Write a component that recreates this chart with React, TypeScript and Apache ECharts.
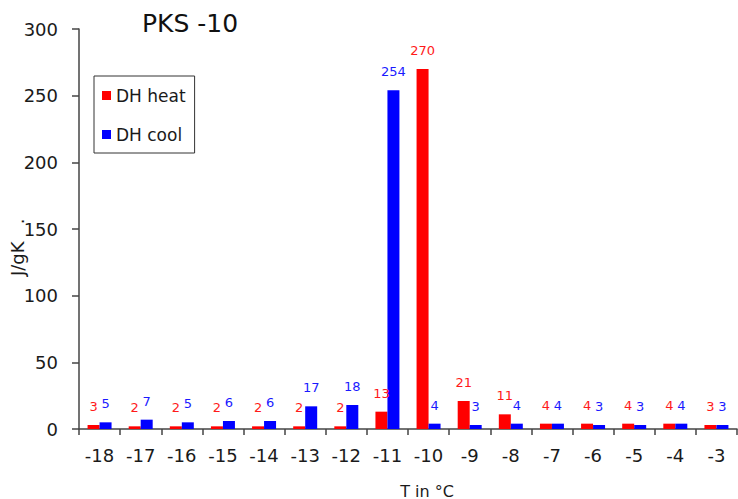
import React, { useEffect, useRef } from "react";
import * as echarts from "echarts";

const categories = ["-18", "-17", "-16", "-15", "-14", "-13", "-12", "-11", "-10", "-9", "-8", "-7", "-6", "-5", "-4", "-3"];
const heatValues = [3, 2, 2, 2, 2, 2, 2, 13, 270, 21, 11, 4, 4, 4, 4, 3];
const coolValues = [5, 7, 5, 6, 6, 17, 18, 254, 4, 3, 4, 4, 3, 3, 4, 3];
const yTicks = { min: 0, max: 300, interval: 50 };

const FONT = "DejaVu Sans";

export default function App() {
  const ref = useRef<HTMLDivElement>(null);
  useEffect(() => {
    document.body.style.margin = "0";
    const chart = echarts.init(ref.current!, null, { renderer: "svg" });
    const labelBase = { show: true, position: "top", distance: 12, fontSize: 13, fontFamily: FONT };
    chart.setOption({
      animation: false,
      backgroundColor: "#ffffff",
      textStyle: { fontFamily: FONT },
      grid: { left: 79, right: 1, top: 29, bottom: 70, containLabel: false },
      legend: {
        orient: "vertical",
        left: 94,
        top: 76,
        itemWidth: 9,
        itemHeight: 9,
        itemGap: 22,
        icon: "rect",
        padding: [11, 9, 10, 8],
        borderColor: "#333",
        borderWidth: 1,
        textStyle: { fontSize: 17, lineHeight: 17, color: "#1a1a1a", fontFamily: FONT },
        data: ["DH heat", "DH cool"],
      },
      xAxis: {
        type: "category",
        data: categories,
        axisLine: { show: true, lineStyle: { color: "#444", width: 1.5 } },
        axisTick: { show: true, length: 6, lineStyle: { color: "#444", width: 1.5 } },
        axisLabel: { fontSize: 18, color: "#1a1a1a", margin: 17, fontFamily: FONT, interval: 0 },
      },
      yAxis: {
        type: "value",
        min: yTicks.min,
        max: yTicks.max,
        interval: yTicks.interval,
        splitLine: { show: false },
        axisLine: { show: true, lineStyle: { color: "#444", width: 1.5 } },
        axisTick: { show: true, length: 7, lineStyle: { color: "#444", width: 1.5 } },
        axisLabel: { fontSize: 18, color: "#1a1a1a", margin: 21, fontFamily: FONT },
      },
      graphic: [
        {
          type: "text",
          x: 190,
          y: 23,
          style: { text: "PKS -10", font: `25px "${FONT}"`, fill: "#111", textAlign: "center", textVerticalAlign: "middle" },
        },
        {
          type: "text",
          x: 17,
          y: 276,
          rotation: Math.PI / 2,
          style: { text: "J/gK   .", font: `18px "${FONT}"`, fill: "#1a1a1a", textAlign: "left", textVerticalAlign: "middle" },
        },
        {
          type: "text",
          x: 427,
          y: 491,
          style: { text: "T in °C", font: `16px "${FONT}"`, fill: "#1a1a1a", textAlign: "center", textVerticalAlign: "middle" },
        },
      ],
      series: [
        {
          name: "DH heat",
          type: "bar",
          data: heatValues,
          barWidth: 12,
          barGap: "0%",
          itemStyle: { color: "#ff0000" },
          label: { ...labelBase, color: "#ff1a1a" },
        },
        {
          name: "DH cool",
          type: "bar",
          data: coolValues,
          barWidth: 12,
          barGap: "0%",
          itemStyle: { color: "#0000ff" },
          label: { ...labelBase, color: "#1a1aff" },
        },
      ],
    });
    return () => chart.dispose();
  }, []);
  return <div ref={ref} style={{ position: "fixed", left: 0, top: 0, width: 738, height: 499 }} />;
}
